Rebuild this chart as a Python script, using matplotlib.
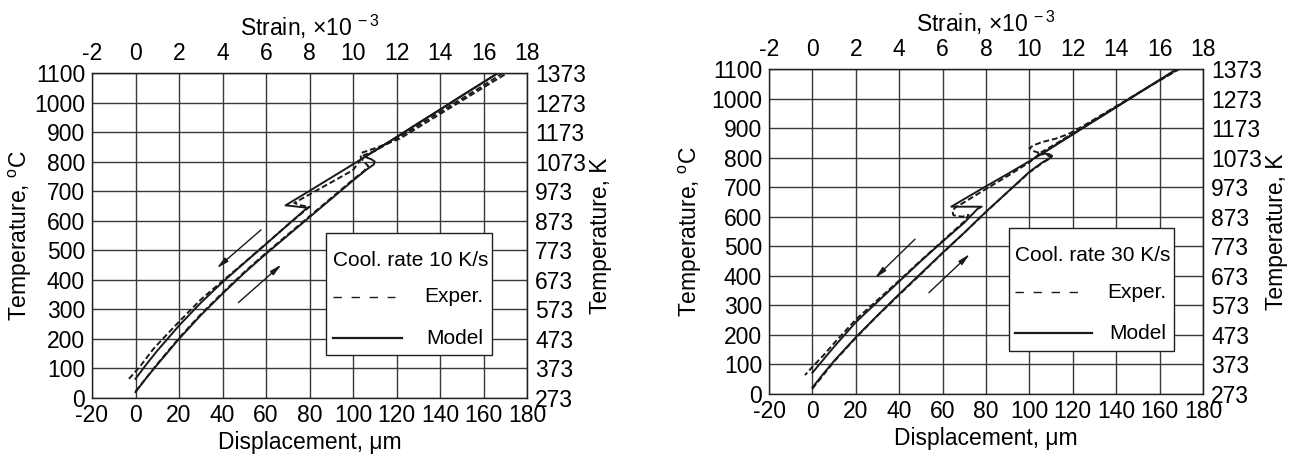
import matplotlib
matplotlib.use('Agg')
import matplotlib.pyplot as plt
from matplotlib.patches import Rectangle

plt.rcParams['font.family'] = ['Liberation Sans', 'DejaVu Sans']
plt.rcParams['mathtext.fontset'] = 'custom'
plt.rcParams['mathtext.rm'] = 'Liberation Sans'
plt.rcParams['axes.unicode_minus'] = False

# Cooling rate 10 K/s: displacement (um) vs temperature (C)
model_heat_10_x = [0, 5, 10, 20, 30, 40, 50, 60, 70, 80, 90, 100, 106, 109.5, 110, 108.5, 105.5,
                   110, 120, 130, 140, 150, 160, 166.7]
model_heat_10_y = [20, 68, 113, 200, 280, 353, 423, 488, 550, 612, 674, 736, 772, 790, 800, 808, 816,
                   837, 883, 930, 976, 1023, 1069, 1100]
model_cool_10_x = [166.7, 160, 150, 140, 130, 120, 110, 105.5, 100, 90, 80, 69, 74, 79,
                   70, 60, 50, 40, 30, 20, 10, 5, 0]
model_cool_10_y = [1100, 1069, 1023, 976, 930, 883, 837, 816, 791, 746, 701, 652, 648, 644,
                   586, 521, 457, 392, 322, 245, 160, 114, 65]
exp_heat_10_x = [0, 10, 20, 30, 40, 50, 60, 70, 80, 90, 100, 105, 107, 105, 103.5, 104,
                 110, 121.6, 130, 140, 150, 160, 171]
exp_heat_10_y = [22, 115, 203, 283, 356, 426, 491, 553, 615, 677, 739, 768, 785, 800, 815, 830,
                 845, 878, 916, 961, 1006, 1051, 1100]
exp_cool_10_x = [169, 160, 150, 140, 130, 120, 110, 105, 100.1, 93.2, 86.3, 81, 74.9, 73, 76, 80,
                 70, 60, 50, 40, 30, 20, 14.3, 8.2, 2, -3]
exp_cool_10_y = [1100, 1058, 1013, 968, 923, 878, 836, 822, 772, 743, 715, 693, 668, 660, 652, 647,
                 586, 522, 458, 396, 333, 258, 214, 166, 106, 65]

# Cooling rate 30 K/s
model_heat_30_x = [0, 5, 10, 20, 30, 40, 50, 60, 70, 80, 90, 100, 106, 109.5, 110.5, 109, 106,
                   115, 125, 135, 145, 155, 165, 168]
model_heat_30_y = [22, 68, 112, 192, 266, 338, 408, 478, 546, 617, 684, 752, 784, 798, 806, 812, 814,
                   856, 902, 948, 994, 1040, 1086, 1100]
model_cool_30_x = [168, 160, 150, 140, 130, 120, 110, 106, 100, 90, 80, 70, 64, 71, 78, 76,
                   70, 60, 50, 40, 30, 20, 10, 5, 0]
model_cool_30_y = [1100, 1063, 1017, 971, 925, 879, 833, 814, 788, 745, 703, 660, 634, 634, 634, 626,
                   580, 516, 450, 381, 312, 243, 160, 116, 72]
exp_heat_30_x = [0, 10, 20, 30, 40, 50, 60, 70, 80, 90, 100, 106, 110, 108, 104,
                 112, 125, 140, 155, 169]
exp_heat_30_y = [18, 110, 190, 265, 336, 406, 477, 546, 616, 684, 750, 782, 800, 810, 812,
                 846, 905, 972, 1040, 1100]
exp_cool_30_x = [169, 150, 135, 125, 118, 112, 106, 102, 100, 102, 105, 100, 90, 80, 70, 66, 64.5,
                 65, 69, 72, 70, 60, 50, 40, 30, 20, 10, 5, 0, -3.4]
exp_cool_30_y = [1100, 1018, 952, 908, 880, 864, 853, 842, 832, 822, 815, 784, 738, 694, 649, 632, 620,
                 605, 600, 606, 584, 518, 452, 384, 318, 252, 172, 130, 92, 64]

rates = ['10', '30']


def draw_panel(ax, heat_m, cool_m, heat_e, cool_e, rate, box, rows, arrows, ylabelpad):
    """
    One dilatometry panel: curves, grid, extra K / strain axes and framed legend
    """
    fs = 16.5
    ax.set_xlim(-20, 180)
    ax.set_ylim(0, 1100)
    ax.set_xticks(range(-20, 181, 20))
    ax.set_yticks(range(0, 1101, 100))
    ax.grid(True, color='#383838', lw=1.0)
    ax.set_axisbelow(True)
    for s in ax.spines.values():
        s.set_color('#202020')
        s.set_linewidth(1.0)
    ax.tick_params(axis='x', length=0, labelsize=fs, pad=4)
    ax.tick_params(axis='y', length=0, labelsize=fs, pad=5)

    # experiment (dashed) under model (solid)
    exp_style = dict(color='#1a1a1a', lw=1.4, ls=(0, (3, 1.5)))
    ax.plot(heat_e[0], heat_e[1], **exp_style)
    ax.plot(cool_e[0], cool_e[1], **exp_style)
    ax.plot(heat_m[0], heat_m[1], color='#1a1a1a', lw=1.4)
    ax.plot(cool_m[0], cool_m[1], color='#1a1a1a', lw=1.4)

    for tail, head in arrows:
        ax.annotate('', xy=head, xytext=tail,
                    arrowprops=dict(arrowstyle='-|>,head_length=0.7,head_width=0.15',
                                    color='#1a1a1a', lw=1.0, shrinkA=0, shrinkB=0))

    ax.set_xlabel('Displacement, \u03bcm', fontsize=fs, labelpad=3)
    ax.set_ylabel('Temperature, $\\mathregular{^{o}}$C', fontsize=fs, labelpad=ylabelpad)

    top = ax.secondary_xaxis('top', functions=(lambda d: d / 10, lambda s: s * 10))
    top.set_xticks(range(-2, 19, 2))
    top.tick_params(length=0, labelsize=fs, pad=6)
    top.set_xlabel('Strain, \u00d710$\\mathregular{^{\\,-3}}$', fontsize=fs, labelpad=4)

    right = ax.secondary_yaxis('right', functions=(lambda c: c + 273, lambda k: k - 273))
    right.set_yticks(range(273, 1374, 100))
    right.tick_params(length=0, labelsize=fs, pad=6)
    right.set_ylabel('Temperature, K', fontsize=fs, labelpad=2)

    # framed legend drawn by hand
    x0, x1, y0, y1 = box
    ax.add_patch(Rectangle((x0, y0), x1 - x0, y1 - y0, facecolor='white',
                           edgecolor='#202020', lw=1.0, zorder=4))
    tx0, tx1, sx1, y_title, y_exp, y_mod = rows
    ax.text(tx0, y_title, 'Cool. rate %s K/s' % rate, fontsize=15, ha='left', va='center', zorder=5)
    ax.text(tx1, y_exp, 'Exper.', fontsize=15, ha='right', va='center', zorder=5)
    ax.text(tx1, y_mod, 'Model', fontsize=15, ha='right', va='center', zorder=5)
    ax.plot([tx0, sx1], [y_exp, y_exp], color='#1a1a1a', lw=1.0, ls=(0, (6, 7)), zorder=5)
    ax.plot([tx0, sx1 + 3], [y_mod, y_mod], color='#1a1a1a', lw=1.6, zorder=5)


fig = plt.figure(figsize=(12.94, 4.59), dpi=100)
ax1 = fig.add_axes([92 / 1294, 61 / 459, 435 / 1294, 325 / 459])
ax2 = fig.add_axes([769 / 1294, 65 / 459, 434 / 1294, 325 / 459])

draw_panel(ax1, (model_heat_10_x, model_heat_10_y), (model_cool_10_x, model_cool_10_y),
           (exp_heat_10_x, exp_heat_10_y), (exp_cool_10_x, exp_cool_10_y), rates[0],
           box=(87.6, 163.9, 145.5, 558), rows=(90.8, 159.8, 119.3, 467, 342, 203),
           arrows=[((57.7, 569), (37.3, 439)), ((47.3, 323), (67.2, 452))], ylabelpad=0)
draw_panel(ax2, (model_heat_30_x, model_heat_30_y), (model_cool_30_x, model_cool_30_y),
           (exp_heat_30_x, exp_heat_30_y), (exp_cool_30_x, exp_cool_30_y), rates[1],
           box=(90.6, 166.6, 145.5, 562), rows=(93.3, 163.0, 126.0, 470, 345, 206),
           arrows=[((47.3, 524), (28.8, 392)), ((53.7, 343), (72.6, 474))], ylabelpad=5)

fig.savefig('out.png', dpi=100)
